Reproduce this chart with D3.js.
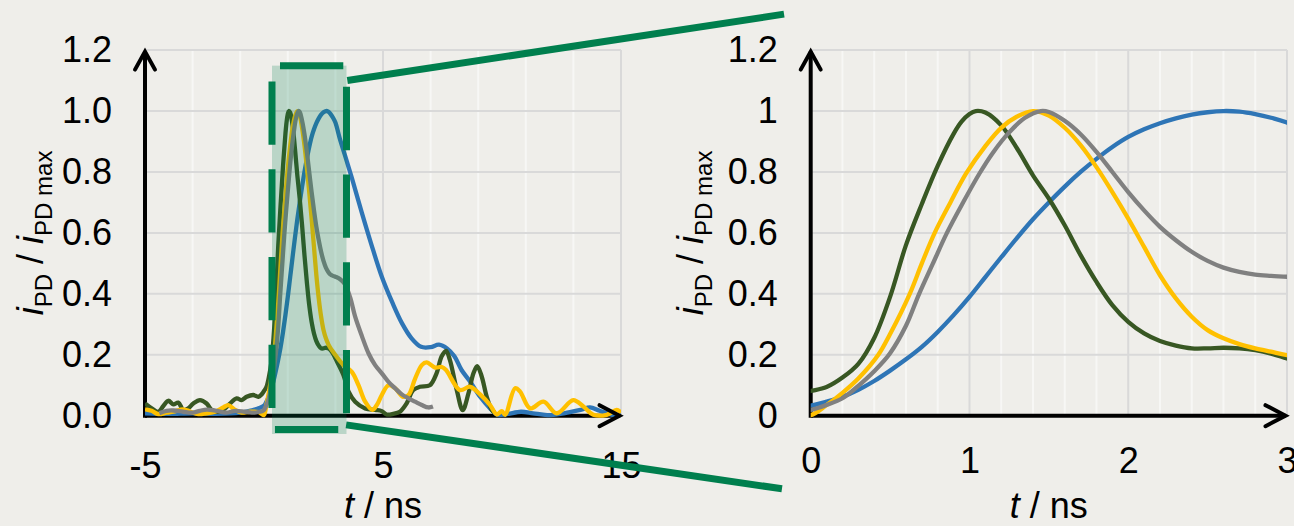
<!DOCTYPE html>
<html>
<head>
<meta charset="utf-8">
<script src="https://cdn.jsdelivr.net/npm/d3@7"></script>
<style>
  html, body { margin: 0; padding: 0; background: #efeeea; }
  svg { display: block; font-family: "Liberation Sans", Arial, Helvetica, sans-serif; }
</style>
</head>
<body>
<svg id="fig" width="1294" height="526"></svg>
<script>
// ---- normalised photodiode current traces, [t in ns, i/imax] ----
const blueTrace = [
  [-5, 0.008], [-4, 0.006], [-3, 0.008], [-2, 0.006], [-1, 0.01], [-0.5, 0.018], [-0.2, 0.025],
  [0, 0.033], [0.1, 0.046], [0.2, 0.062], [0.3, 0.085], [0.4, 0.114], [0.5, 0.148], [0.6, 0.185],
  [0.7, 0.226], [0.8, 0.275], [0.9, 0.33], [1.0, 0.39], [1.1, 0.455], [1.2, 0.52], [1.3, 0.584],
  [1.4, 0.645], [1.5, 0.7], [1.6, 0.752], [1.7, 0.8], [1.8, 0.843], [1.9, 0.882], [2.0, 0.915],
  [2.1, 0.94], [2.2, 0.96], [2.3, 0.976], [2.4, 0.988], [2.5, 0.996], [2.6, 1.0], [2.7, 0.998],
  [2.8, 0.99], [2.9, 0.978], [3.0, 0.962], [3.2, 0.905], [3.4, 0.855], [3.7, 0.778], [4.1, 0.669],
  [4.5, 0.565], [4.95, 0.456], [5.4, 0.37], [5.8, 0.303], [6.2, 0.254], [6.6, 0.226], [7.0, 0.225],
  [7.35, 0.233], [7.7, 0.22], [8.0, 0.195], [8.3, 0.15], [8.66, 0.112], [9.08, 0.062], [9.5, 0.024],
  [9.8, 0.003], [10.2, 0.005], [10.8, 0.013], [11.3, 0.008], [11.9, 0.002], [12.6, 0.008],
  [13.3, 0.019], [13.7, 0.027], [14.1, 0.016], [14.7, 0.002], [15, 0.002]
];

const darkGreenTrace = [
  [-5, 0.04], [-4.72, 0.024], [-4.44, 0.013], [-4.23, 0.032], [-4.02, 0.049], [-3.81, 0.037],
  [-3.6, 0.043], [-3.39, 0.019], [-3.18, 0.024], [-2.97, 0.04], [-2.69, 0.051], [-2.41, 0.04],
  [-2.2, 0.019], [-1.92, 0.013], [-1.64, 0.024], [-1.43, 0.04], [-1.15, 0.057], [-0.94, 0.051],
  [-0.73, 0.062], [-0.45, 0.068], [-0.24, 0.062], [-0.1, 0.07],
  [0, 0.081], [0.1, 0.094], [0.2, 0.125], [0.3, 0.17], [0.4, 0.255], [0.5, 0.39], [0.6, 0.56],
  [0.7, 0.695], [0.8, 0.82], [0.9, 0.925], [0.95, 0.965], [1.0, 0.99], [1.04, 1.0], [1.1, 0.995],
  [1.2, 0.953], [1.3, 0.877], [1.4, 0.789], [1.5, 0.713], [1.6, 0.625], [1.7, 0.527], [1.8, 0.439],
  [1.9, 0.363], [2.0, 0.308], [2.1, 0.27], [2.2, 0.245], [2.3, 0.23], [2.4, 0.221], [2.5, 0.221],
  [2.6, 0.223], [2.7, 0.221], [2.8, 0.215], [2.9, 0.204], [3.0, 0.188], [3.34, 0.133], [3.55, 0.08],
  [3.83, 0.046], [4.25, 0.024], [4.67, 0.019], [4.95, 0.015], [5.15, 0.004], [5.43, 0.006],
  [5.71, 0.013], [5.99, 0.04], [6.27, 0.084], [6.55, 0.095], [6.97, 0.1], [7.25, 0.139],
  [7.46, 0.194], [7.65, 0.213], [7.81, 0.183], [8.1, 0.084], [8.35, 0.018], [8.59, 0.073],
  [8.8, 0.139], [8.96, 0.163], [9.15, 0.128], [9.36, 0.062], [9.57, 0.019], [9.7, 0.01]
];

const yellowTrace = [
  [-5, 0.021], [-4.72, 0.016], [-4.44, 0.005], [-4.09, 0.01], [-3.81, 0.013], [-3.39, 0.021],
  [-3.11, 0.014], [-2.76, 0.005], [-2.41, 0.008], [-2.06, 0.013], [-1.71, 0.027], [-1.5, 0.035],
  [-1.22, 0.019], [-0.94, 0.01], [-0.59, 0.013], [-0.24, 0.012], [-0.1, 0.006],
  [0, 0.002], [0.1, 0.035], [0.2, 0.075], [0.3, 0.122], [0.426, 0.2], [0.5, 0.268], [0.624, 0.4],
  [0.7, 0.5], [0.781, 0.6], [0.88, 0.7], [0.979, 0.795], [1.1, 0.885], [1.2, 0.945], [1.3, 0.982],
  [1.4, 1.0], [1.5, 0.985], [1.6, 0.945], [1.7, 0.888], [1.8, 0.816], [1.9, 0.734], [2.0, 0.647],
  [2.1, 0.554], [2.2, 0.461], [2.3, 0.385], [2.4, 0.325], [2.5, 0.281], [2.6, 0.254], [2.7, 0.235],
  [2.8, 0.221], [2.9, 0.21], [3.0, 0.199], [3.34, 0.166], [3.69, 0.144], [3.97, 0.1], [4.25, 0.046],
  [4.55, 0.019], [4.74, 0.035], [4.95, 0.068], [5.23, 0.1], [5.51, 0.09], [5.85, 0.062],
  [6.07, 0.068], [6.35, 0.122], [6.63, 0.166], [6.83, 0.175], [7.19, 0.158], [7.47, 0.16],
  [7.65, 0.15], [8.23, 0.084], [8.66, 0.095], [9.08, 0.07], [9.5, 0.035], [9.78, 0.004],
  [9.99, 0.015], [10.13, 0.003], [10.55, 0.09], [10.76, 0.079], [11.18, 0.024], [11.74, 0.046],
  [12.3, 0.008], [12.99, 0.051], [13.42, 0.03], [13.84, 0.003], [14.4, 0.003], [14.82, 0.019], [15, 0.01]
];

const grayTrace = [
  [-4.4, 0.008], [-4.1, 0.016], [-3.8, 0.017], [-3.4, 0.013], [-3.0, 0.01], [-2.7, 0.016],
  [-2.4, 0.02], [-2.0, 0.016], [-1.6, 0.01], [-1.2, 0.016], [-0.8, 0.013], [-0.4, 0.01],
  [-0.2, 0.013], [-0.05, 0.016],
  [0, 0.019], [0.1, 0.035], [0.206, 0.059], [0.3, 0.098], [0.4, 0.146], [0.5, 0.205], [0.6, 0.295],
  [0.683, 0.4], [0.77, 0.5], [0.858, 0.6], [0.96, 0.7], [1.063, 0.795], [1.15, 0.865], [1.25, 0.93],
  [1.35, 0.978], [1.45, 1.0], [1.5, 0.997], [1.6, 0.968], [1.7, 0.924], [1.8, 0.866], [1.9, 0.8],
  [2.0, 0.734], [2.1, 0.674], [2.2, 0.62], [2.3, 0.576], [2.4, 0.538], [2.5, 0.508], [2.6, 0.486],
  [2.7, 0.472], [2.8, 0.463], [2.9, 0.459], [3.0, 0.456], [3.2, 0.448], [3.4, 0.432], [3.62, 0.388],
  [3.83, 0.325], [4.11, 0.262], [4.39, 0.205], [4.67, 0.166], [4.95, 0.139], [5.23, 0.111],
  [5.51, 0.09], [5.79, 0.07], [6.07, 0.057], [6.35, 0.046], [6.63, 0.035], [6.91, 0.027], [7.1, 0.03]
];

// drawing order and colours of the traces
const traceNames = ["blue", "darkGreen", "yellow", "gray"];
const traceColors = ["#2e75b6", "#385723", "#ffc000", "#808080"];
const traces = [blueTrace, darkGreenTrace, yellowTrace, grayTrace];

// ---- axis ticks ----
const yTicks = [0, 0.2, 0.4, 0.6, 0.8, 1.0, 1.2];
const leftXLabels = [-5, 5, 15];
const leftXGrid = [-3, -1, 1, 3, 5, 7, 9, 11, 13, 15];
const leftXMajor = [5, 15];
const rightXLabels = [0, 1, 2, 3];
const rightXGrid = d3.range(1, 16).map(k => +(k * 0.2).toFixed(1));
const rightXMajor = [1, 2, 3];

// highlighted window on the overview plot (ns, normalised units)
const windowT = [0.336, 3.466];
const windowV = [-0.045, 1.149];

// ---- layout ----
const svg = d3.select("#fig");
const GREEN = "#007f4e";
const GRID = "#d9d9d9";
const GRID_MINOR = "#f7f7f5";

const xL = d3.scaleLinear().domain([-5, 15]).range([145, 621]);
const xR = d3.scaleLinear().domain([0, 3]).range([810.7, 1287]);
const yS = d3.scaleLinear().domain([0, 1.2]).range([415.7, 50.1]);

function drawPanel(g, x, xGrid, xMajor, clipId) {
  const [x0, x1] = x.range();
  // vertical grid
  g.append("g").selectAll("line").data(xGrid).join("line")
    .attr("x1", d => x(d)).attr("x2", d => x(d))
    .attr("y1", yS(0)).attr("y2", yS(1.2))
    .attr("stroke", d => xMajor.includes(d) ? GRID : GRID_MINOR)
    .attr("stroke-width", 2);
  // horizontal grid
  g.append("g").selectAll("line").data(yTicks.slice(1)).join("line")
    .attr("x1", x0).attr("x2", x1)
    .attr("y1", d => yS(d)).attr("y2", d => yS(d))
    .attr("stroke", GRID).attr("stroke-width", 2);
  // axis lines
  g.append("line").attr("x1", x0).attr("x2", x1 - 1.5).attr("y1", yS(0)).attr("y2", yS(0))
    .attr("stroke", "#000").attr("stroke-width", 4);
  g.append("line").attr("x1", x0).attr("x2", x0).attr("y1", yS(0) + 2).attr("y2", yS(1.2) + 1.5)
    .attr("stroke", "#000").attr("stroke-width", 4);

  // traces
  const line = d3.line().x(d => x(d[0])).y(d => yS(d[1])).curve(d3.curveCatmullRom.alpha(0.5));
  const clip = svg.append("clipPath").attr("id", clipId);
  clip.append("rect").attr("x", x0).attr("y", 0).attr("width", x1 - x0).attr("height", 526);
  g.append("g").attr("clip-path", `url(#${clipId})`)
    .selectAll("path").data(traces).join("path")
    .attr("class", (d, i) => "trace " + traceNames[i])
    .attr("d", line)
    .attr("fill", "none")
    .attr("stroke", (d, i) => traceColors[i])
    .attr("stroke-width", 4.3)
    .attr("stroke-linejoin", "round");
}

function drawArrows(g, x) {
  const [x0, x1] = x.range();
  const tipX = x1 - 1.5, tipY = yS(1.2) + 1.5;
  g.append("path")
    .attr("d", `M${tipX - 20},${yS(0) - 10.5} L${tipX},${yS(0)} L${tipX - 20},${yS(0) + 10.5}`)
    .attr("fill", "none").attr("stroke", "#000").attr("stroke-width", 4)
    .attr("stroke-linecap", "round").attr("stroke-linejoin", "miter");
  g.append("path")
    .attr("d", `M${x0 - 10},${tipY + 18} L${x0},${tipY} L${x0 + 10},${tipY + 18}`)
    .attr("fill", "none").attr("stroke", "#000").attr("stroke-width", 4)
    .attr("stroke-linecap", "round").attr("stroke-linejoin", "miter");
}

function drawLabels(g, x, xLabels, yFmt, xPad) {
  const yAxis = g.append("g").attr("transform", `translate(${x.range()[0]},0)`)
    .call(d3.axisLeft(yS).tickValues(yTicks).tickSize(0).tickPadding(33).tickFormat(yFmt));
  const xAxis = g.append("g").attr("transform", `translate(0,${yS(0)})`)
    .call(d3.axisBottom(x).tickValues(xLabels).tickSize(0).tickPadding(xPad).tickFormat(d => String(d)));
  [yAxis, xAxis].forEach(a => {
    a.select(".domain").remove();
    a.selectAll("text").attr("font-size", 36).attr("fill", "#000")
      .attr("font-family", '"Liberation Sans", Arial, sans-serif');
  });
}

function xTitle(g, cx) {
  const t = g.append("text").attr("x", cx).attr("y", 518).attr("text-anchor", "middle")
    .attr("font-size", 36).attr("fill", "#000");
  t.append("tspan").attr("font-style", "italic").text("t");
  t.append("tspan").text(" / ns");
}

function yTitle(g, bx) {
  const t = g.append("text")
    .attr("transform", `translate(${bx},${(yS(0) + yS(1.2)) / 2}) rotate(-90)`)
    .attr("text-anchor", "middle").attr("font-size", 36).attr("fill", "#000");
  t.append("tspan").attr("font-style", "italic").text("i");
  t.append("tspan").attr("font-size", 24).attr("dy", 9).text("PD");
  t.append("tspan").attr("dy", -9).text(" / ");
  t.append("tspan").attr("font-style", "italic").text("i");
  t.append("tspan").attr("font-size", 24).attr("dy", 9).text("PD max");
}

// ---- overview panel ----
const left = svg.append("g").attr("class", "overview");
drawPanel(left, xL, leftXGrid, leftXMajor, "clipOverview");

// highlighted window
left.append("rect")
  .attr("x", xL(windowT[0])).attr("y", yS(windowV[1]))
  .attr("width", xL(windowT[1]) - xL(windowT[0]))
  .attr("height", yS(-0.06) - yS(windowV[1]))
  .attr("fill", GREEN).attr("fill-opacity", 0.22);
left.append("rect")
  .attr("x", xL(windowT[0])).attr("y", yS(windowV[1]))
  .attr("width", xL(windowT[1]) - xL(windowT[0]))
  .attr("height", yS(windowV[0]) - yS(windowV[1]))
  .attr("fill", "none").attr("stroke", GREEN).attr("stroke-width", 7)
  .attr("stroke-dasharray", "63.3 24.4").attr("stroke-dashoffset", 79.7);

drawArrows(left, xL);
drawLabels(left, xL, leftXLabels, d3.format(".1f"), 37);
xTitle(left, (xL(-5) + xL(15)) / 2);
yTitle(left, 43);

// ---- detail panel ----
const right = svg.append("g").attr("class", "detail");
drawPanel(right, xR, rightXGrid, rightXMajor, "clipDetail");
drawArrows(right, xR);
drawLabels(right, xR, rightXLabels, d => String(+d.toFixed(1)), 32);
xTitle(right, (xR(0) + xR(3)) / 2);
yTitle(right, 703);

// ---- connector lines from the window to the detail panel ----
const connectors = [
  [[xL(3.5), yS(1.1)], [xR(-0.168), yS(1.318)]],
  [[xL(3.45), yS(-0.03)], [xR(-0.181), yS(-0.24)]]
];
svg.append("g").selectAll("line").data(connectors).join("line")
  .attr("x1", d => d[0][0]).attr("y1", d => d[0][1])
  .attr("x2", d => d[1][0]).attr("y2", d => d[1][1])
  .attr("stroke", GREEN).attr("stroke-width", 7);
</script>
</body>
</html>
